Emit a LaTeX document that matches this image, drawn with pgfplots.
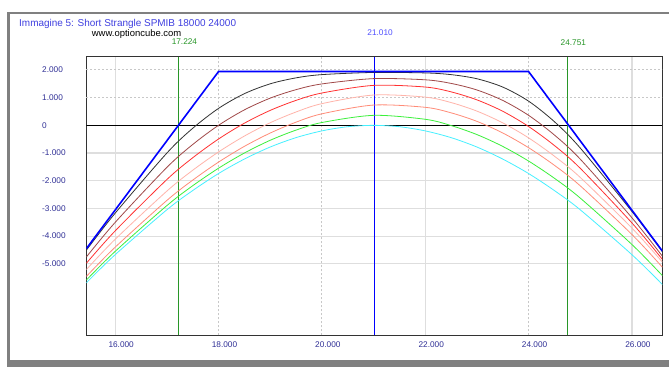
\documentclass[border=0pt]{standalone}
\usepackage{fontspec}
\setmainfont{Liberation Sans}
\usepackage{pgfplots}
\usepackage{pgfplotstable}
\pgfplotsset{compat=1.18}
\definecolor{ttl}{RGB}{64,64,224}
\definecolor{tickc}{RGB}{48,48,150}
\definecolor{bgreen}{RGB}{40,150,40}
\definecolor{lblue}{RGB}{80,80,255}
\definecolor{c1}{RGB}{50,50,50}
\definecolor{c2}{RGB}{160,72,72}
\definecolor{c3}{RGB}{255,50,50}
\definecolor{c4}{RGB}{255,180,170}
\definecolor{c5}{RGB}{255,140,120}
\definecolor{c6}{RGB}{60,240,60}
\definecolor{c7}{RGB}{70,240,255}
\definecolor{gridc}{RGB}{222,222,222}
\definecolor{framec}{RGB}{128,128,128}
\pgfplotstableread{
x      c1     c2     c3     c4     c5     c6
15443 -4.505 -4.752 -4.978 -5.206 -5.454 -5.585
16000 -3.171 -3.504 -3.811 -4.114 -4.399 -4.551
17000 -1.003 -1.520 -1.958 -2.375 -2.712 -2.899
17500 -0.109 -0.694 -1.173 -1.624 -1.980 -2.182
18000  0.610  0.000 -0.495 -0.962 -1.329 -1.549
18500  1.141  0.556  0.075 -0.389 -0.760 -1.001
19000  1.497  0.980  0.538  0.092 -0.280 -0.541
19500  1.712  1.286  0.899  0.480  0.113 -0.174
20000  1.829  1.493  1.165  0.781  0.414  0.100
21000  1.907  1.684  1.440  1.092  0.730  0.359
22000  1.890  1.642  1.381  1.017  0.649  0.217
22500  1.829  1.512  1.207  0.821  0.450 -0.009
23000  1.680  1.275  0.918  0.512  0.142 -0.335
23500  1.380  0.898  0.507  0.088 -0.277 -0.762
24000  0.872  0.360 -0.043 -0.453 -0.808 -1.290
24500  0.130 -0.351 -0.730 -1.115 -1.444 -1.912
25000 -0.820 -1.222 -1.552 -1.882 -2.185 -2.627
26000 -3.109 -3.337 -3.524 -3.710 -3.941 -4.303
26590 -4.561 -4.727 -4.841 -4.939 -5.123 -5.426
}\curves
\begin{document}
\begin{tikzpicture}
\useasboundingbox (0,0) rectangle (669bp,367bp);
\fill[white] (0,0) rectangle (669bp,367bp);
\draw[framec, line width=2.5bp] (8.5bp,7bp) -- (8.5bp,354bp) -- (669bp,354bp);
\fill[framec] (7.25bp,0) rectangle (669bp,7bp);
\node[anchor=base west, inner sep=0pt, text=ttl, font=\fontsize{10}{12}\selectfont] at (19bp,340.2bp) {Immagine 5: Short Strangle SPMIB 18000 24000};
\node[anchor=base west, inner sep=0pt, text=black, font=\fontsize{9.5}{11}\selectfont] at (91.7bp,330.7bp) {www.optioncube.com};
\begin{axis}[
  at={(86.4bp,31.7bp)}, anchor=south west,
  scale only axis, width=576bp, height=278.6bp,
  xmin=15443, xmax=26590, ymin=-7.58, ymax=2.476,
  clip mode=individual,
  scaled x ticks=false, scaled y ticks=false,
  axis line style={black!80, line width=0.8bp},
  major tick length=0pt,
  xtick={16000,22000,26000}, xticklabels={16.000,22.000,26.000},
  extra x ticks={18000,20000,24000}, extra x tick labels={18.000,20.000,24.000},
  extra x tick style={grid=major, major grid style={color=gridc!90!black, line width=0.8bp, dash pattern=on 2bp off 2bp}},
  ytick={-5,-4,-3,-2,-1,0}, yticklabels={-5.000,-4.000,-3.000,-2.000,-1.000,0},
  extra y ticks={1,2}, extra y tick labels={1.000,2.000},
  extra y tick style={grid=major, major grid style={color=gridc!90!black, line width=0.8bp, dash pattern=on 2bp off 2bp}},
  grid=major, major grid style={color=gridc, line width=1.2bp},
  xticklabel style={font=\fontsize{8.3}{10}\selectfont, text=tickc, inner sep=0pt, anchor=north, xshift=6bp, yshift=-6bp},
  yticklabel style={font=\fontsize{8.3}{10}\selectfont, text=tickc, inner sep=0pt, anchor=west, xshift=-44.4bp},
]
\addplot[black, line width=0.8bp] coordinates {(15443,0) (26590,0)};
\addplot[bgreen, line width=0.8bp] coordinates {(17224,-7.58) (17224,2.476)};
\addplot[bgreen, line width=0.8bp] coordinates {(24751,-7.58) (24751,2.476)};
\addplot[blue, line width=0.8bp] coordinates {(21010,-7.58) (21010,2.476)};
% curves
\addplot[c7, line width=0.8bp, smooth] coordinates {(15443,-5.685) (16000,-4.670) (17000,-3.050) (17500,-2.356) (18000,-1.741) (18500,-1.219) (19000,-0.784) (19500,-0.445) (20000,-0.202) (20500,-0.051) (21000,-0.002) (21500,-0.051) (22000,-0.202) (22500,-0.445) (23000,-0.784) (23500,-1.219) (24000,-1.741) (24500,-2.356) (25000,-3.050) (26000,-4.670) (26590,-5.747)};
\addplot[c6, line width=0.8bp, smooth] table[x=x, y=c6] {\curves};
\addplot[c5, line width=0.8bp, smooth] table[x=x, y=c5] {\curves};
\addplot[c4, line width=0.8bp, smooth] table[x=x, y=c4] {\curves};
\addplot[c3, line width=0.8bp, smooth] table[x=x, y=c3] {\curves};
\addplot[c2, line width=0.8bp, smooth] table[x=x, y=c2] {\curves};
\addplot[c1, line width=0.8bp, smooth] table[x=x, y=c1] {\curves};
% expiry payoff
\addplot[blue, line width=1.6bp] coordinates {(15443,-4.45) (18000,1.94) (24000,1.94) (26590,-4.54)};
\node[anchor=base, inner sep=0pt, text=bgreen, font=\fontsize{8.3}{10}\selectfont, xshift=6bp, yshift=11.7bp] at (axis cs:17224,2.476) {17.224};
\node[anchor=base, inner sep=0pt, text=lblue, font=\fontsize{8.3}{10}\selectfont, xshift=6bp, yshift=21.4bp] at (axis cs:21010,2.476) {21.010};
\node[anchor=base, inner sep=0pt, text=bgreen, font=\fontsize{8.3}{10}\selectfont, xshift=6bp, yshift=11.4bp] at (axis cs:24751,2.476) {24.751};
\end{axis}
\end{tikzpicture}
\end{document}
